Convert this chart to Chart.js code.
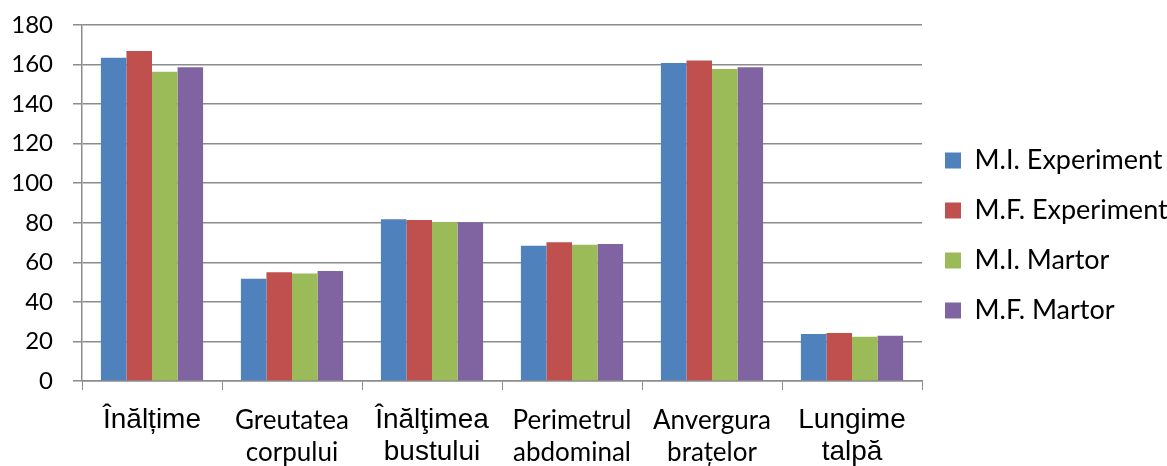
<!DOCTYPE html>
<html>
<head>
<meta charset="utf-8">
<script src="https://cdn.jsdelivr.net/npm/chart.js@4"></script>
<style>
  html, body { margin: 0; padding: 0; background: #fff; }
  #wrap { width: 1167px; height: 466px; }
</style>
</head>
<body>
<div id="wrap"><canvas id="chart"></canvas></div>
<script>
// ── Data ─────────────────────────────────────────────
const categories = [
  'Înălțime',
  ['Greutatea', 'corpului'],
  ['Înălţimea', 'bustului'],
  ['Perimetrul', 'abdominal'],
  ['Anvergura', 'brațelor'],
  ['Lungime', 'talpă'],
];
const bigLabels = [0, 2, 5];   // these use a different (Arial-like) font in the original

const miExperiment = [163.4, 51.7, 81.8, 68.4, 160.8, 23.8];
const mfExperiment = [166.8, 55.0, 81.4, 70.1, 162.1, 24.3];
const miMartor     = [156.4, 54.3, 80.4, 68.9, 157.7, 22.4];
const mfMartor     = [158.6, 55.6, 80.3, 69.3, 158.6, 22.9];

const yTicks = { min: 0, max: 180, step: 20 };

// ── Style ────────────────────────────────────────────
const FONT = 'Lato, "Noto Sans", sans-serif';
const FONT_ALT = '"Liberation Sans", Arial, sans-serif';
const GRID = '#8c8c8c';
const LEGEND_W = 245;
const LEGEND_SHIFT = -10;

const series = [
  { label: 'M.I. Experiment', data: miExperiment, color: '#4F81BD' },
  { label: 'M.F. Experiment', data: mfExperiment, color: '#C0504D' },
  { label: 'M.I. Martor',     data: miMartor,     color: '#9BBB59' },
  { label: 'M.F. Martor',     data: mfMartor,     color: '#8064A2' },
];

// fixed legend width (plot reaches the same right edge) and a small upward nudge
const legendTweak = {
  id: 'legendTweak',
  afterInit(chart) {
    const lg = chart.legend;
    if (!lg) return;
    const fit = lg.fit.bind(lg);
    const draw = lg.draw.bind(lg);
    lg.fit = function () { fit(); this.width = LEGEND_W; };
    lg.draw = function () {
      const c = this.ctx;
      c.save();
      c.translate(0, LEGEND_SHIFT);
      draw();
      c.restore();
    };
  },
};

new Chart(document.getElementById('chart'), {
  type: 'bar',
  data: {
    labels: categories,
    datasets: series.map(s => ({
      label: s.label,
      data: s.data,
      backgroundColor: s.color,
      borderWidth: 0,
      categoryPercentage: 0.73,
      barPercentage: 1.0,
    })),
  },
  plugins: [legendTweak],
  options: {
    responsive: true,
    maintainAspectRatio: false,
    animation: false,
    layout: { padding: { top: 25, left: 0, right: 0, bottom: 0 } },
    plugins: {
      tooltip: { enabled: false },
      legend: {
        position: 'right',
        labels: {
          color: '#000',
          font: { family: FONT, size: 27 },
          boxWidth: 16,
          boxHeight: 16,
          padding: 23,
        },
      },
    },
    scales: {
      x: {
        offset: true,
        grid: {
          offset: true,
          drawOnChartArea: false,
          color: GRID,
          tickLength: 9,
        },
        border: { color: GRID, width: 1.5 },
        ticks: {
          color: '#000',
          padding: 14,
          maxRotation: 0,
          autoSkip: false,
          font: ctx => bigLabels.includes(ctx.index)
            ? { family: FONT_ALT, size: 28, lineHeight: 1.15 }
            : { family: FONT, size: 26, lineHeight: 1.25 },
        },
        afterFit: s => { s.height = 85; },
      },
      y: {
        min: yTicks.min,
        max: yTicks.max,
        grid: { color: GRID, lineWidth: 1.5, tickLength: 9 },
        border: { color: GRID, width: 1.5 },
        ticks: {
          stepSize: yTicks.step,
          color: '#000',
          padding: 20,
          font: { family: FONT, size: 24 },
        },
        afterFit: s => { s.width = 82; s.paddingTop = 0; s.paddingBottom = 0; },
      },
    },
  },
});
</script>
</body>
</html>
